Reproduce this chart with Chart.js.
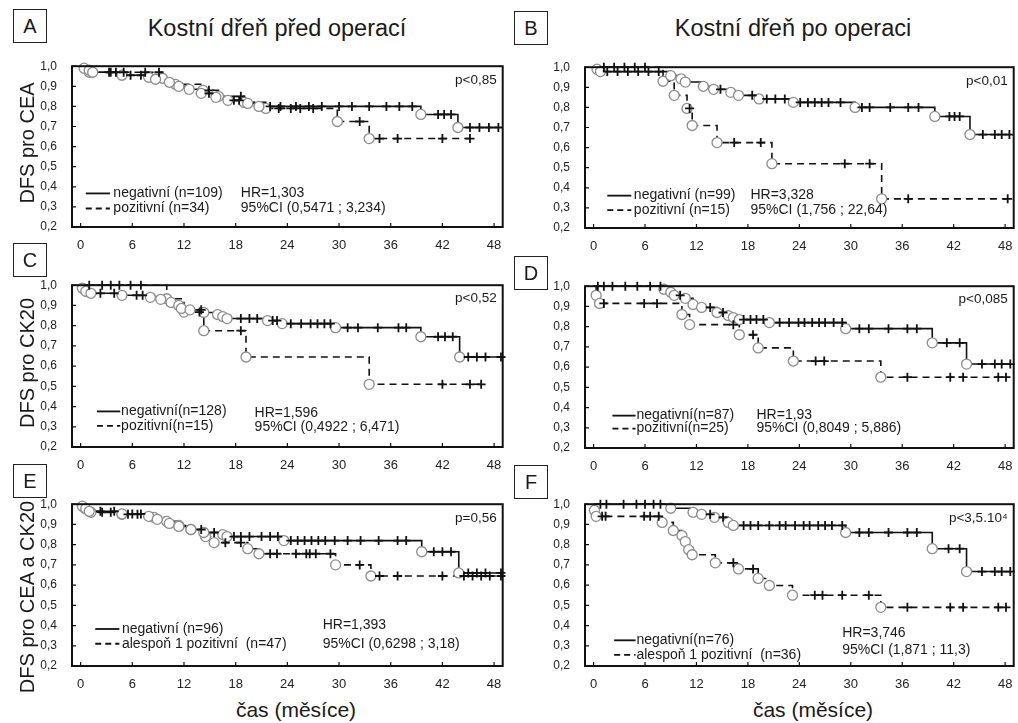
<!DOCTYPE html>
<html>
<head>
<meta charset="utf-8">
<script src="https://cdn.jsdelivr.net/npm/chart.js@4.4.1/dist/chart.umd.min.js"></script>
<style>
body{margin:0;background:#fff;width:1018px;height:723px;position:relative;overflow:hidden;font-family:"Liberation Sans",Arial,sans-serif;color:#1a1a1a}
canvas{position:absolute}
.letter{position:absolute;width:32px;height:32px;border:1.5px solid #222;font-size:20px;line-height:32px;text-align:center}
.title{position:absolute;font-size:23.5px;transform:translate(-50%,-50%);white-space:nowrap}
.xtitle{position:absolute;font-size:21px;transform:translate(-50%,-50%);white-space:nowrap}
.ytitle{position:absolute;font-size:20px;transform:translate(-50%,-50%) rotate(-90deg);white-space:nowrap}
</style>
</head>
<body>
<script>
// axis ticks
const monthTicks = [0, 6, 12, 18, 24, 30, 36, 42, 48];
const survTicks = [0.2, 0.3, 0.4, 0.5, 0.6, 0.7, 0.8, 0.9, 1.0];

// Kaplan-Meier curves: [month, survival] at each event, plus censored months
const aNeg = [[0.4,0.99],[1.0,0.98],[1.4,0.97],[4.8,0.955],[7.9,0.945],[8.7,0.935],[10.3,0.92],[11.4,0.90],[12.6,0.885],[14.0,0.865],[15.7,0.845],[17.1,0.83],[19.4,0.815],[20.7,0.80],[39.5,0.76],[43.8,0.695]];
const aNegCens = [3.3,4.1,5.8,7.0,14.9,17.8,18.4,22.0,23.2,25.0,26.5,28.0,30.0,31.5,33.5,35.5,37.0,38.5,41.5,42.2,43.0,45.2,46.3,47.4,48.5];
const aPos = [[1.0,0.97],[9.5,0.94],[11.0,0.91],[14.2,0.88],[16.0,0.85],[19.0,0.82],[21.5,0.79],[29.8,0.725],[33.5,0.64]];
const aPosCens = [3.5,5.0,7.5,9.1,14.9,18.6,23.0,24.4,25.5,27.0,32.4,34.7,36.8,42.0,45.2];

const bNeg = [[0.4,0.99],[0.8,0.978],[9.0,0.958],[10.2,0.942],[10.7,0.926],[12.8,0.905],[14.0,0.89],[16.0,0.875],[16.9,0.86],[19.3,0.842],[23.3,0.825],[30.5,0.80],[39.8,0.755],[43.9,0.665]];
const bNegCens = [1.6,2.8,4.0,5.2,6.4,7.6,14.8,18.5,20.2,21.2,22.3,24.1,25.0,25.8,26.6,27.4,28.8,31.3,32.2,34.6,36.7,37.9,41.5,42.1,42.7,45.4,46.8,47.6,48.5];
const bPos = [[8.1,0.93],[9.4,0.86],[10.9,0.795],[11.5,0.71],[14.4,0.625],[20.8,0.52],[33.6,0.345]];
const bPosCens = [1.2,2.4,3.6,4.8,6.0,11.2,16.4,19.5,29.3,32.2,36.7,48.3];

const cNeg = [[0.2,0.985],[0.6,0.97],[1.2,0.96],[4.8,0.95],[8.1,0.94],[9.3,0.93],[10.5,0.915],[11.4,0.90],[11.7,0.885],[12.7,0.878],[14.3,0.865],[15.9,0.855],[16.5,0.845],[17.0,0.835],[21.7,0.825],[23.4,0.81],[29.6,0.79],[39.5,0.745],[44.0,0.645]];
const cNegCens = [2.3,3.9,6.5,7.2,14.0,18.6,19.6,20.5,22.3,22.8,24.4,25.6,26.7,27.5,28.3,29.0,31.0,32.2,34.5,36.9,37.8,41.5,42.3,43.2,45.0,46.0,47.0,48.8];
const cPos = [[10.0,0.933],[12.0,0.867],[14.3,0.775],[19.2,0.645],[33.5,0.51]];
const cPosCens = [1.0,2.5,3.5,4.5,5.8,7.0,13.8,18.6,42.0,45.2,46.5];

const dNeg = [[8.2,0.985],[9.0,0.97],[9.4,0.955],[10.7,0.94],[11.6,0.91],[12.6,0.895],[14.4,0.87],[15.7,0.855],[16.3,0.845],[17.0,0.835],[20.5,0.82],[29.4,0.79],[39.5,0.72],[43.5,0.615]];
const dNegCens = [0.5,1.2,2.2,3.7,5.1,6.6,7.8,10.1,13.6,15.1,17.5,18.3,19.0,19.8,21.7,22.8,23.9,24.6,25.5,26.3,27.0,28.0,29.0,31.0,32.1,34.4,36.6,37.7,41.2,42.7,45.3,46.8,47.6,48.6];
const dPos = [[0.3,0.955],[0.7,0.915],[10.3,0.86],[11.2,0.81],[17.0,0.76],[19.2,0.695],[23.3,0.63],[33.5,0.55]];
const dPosCens = [1.2,5.9,7.4,16.3,18.6,25.9,26.9,36.6,41.6,43.1,47.2,48.1];

const eNeg = [[0.2,0.99],[0.6,0.978],[1.0,0.965],[4.8,0.952],[7.9,0.94],[8.9,0.925],[10.3,0.905],[11.4,0.89],[12.8,0.875],[14.3,0.86],[16.5,0.85],[17.0,0.84],[23.6,0.82],[39.6,0.765],[43.9,0.66]];
const eNegCens = [2.3,3.9,6.0,7.0,14.0,15.5,17.8,18.6,19.6,21.0,22.0,22.9,24.4,25.2,26.0,26.8,27.6,28.4,29.5,31.0,32.5,34.6,36.8,37.8,41.0,42.0,43.0,45.0,46.0,47.0,48.8];
const ePos = [[0.5,0.98],[1.2,0.96],[4.8,0.95],[8.5,0.935],[10.0,0.915],[11.4,0.895],[12.8,0.875],[14.5,0.84],[15.5,0.81],[19.4,0.78],[20.7,0.755],[29.6,0.70],[33.7,0.645]];
const ePosCens = [2.5,3.5,5.5,6.6,16.8,18.6,22.0,22.8,25.0,26.2,26.6,27.3,29.0,32.4,34.7,36.8,42.0,44.5,45.5,46.5,47.5,48.8];

const fNeg = [[9.0,0.98],[11.6,0.96],[12.6,0.95],[14.1,0.935],[15.7,0.91],[16.3,0.895],[29.4,0.86],[39.5,0.78],[43.5,0.667]];
const fNegCens = [0.8,1.5,3.5,5.0,6.0,7.0,7.8,13.6,15.1,17.5,18.3,19.2,20.5,21.7,22.4,23.5,24.5,25.2,26.2,27.0,27.8,29.0,31.0,32.1,34.4,36.6,37.7,41.4,42.7,45.3,46.8,47.6,48.6];
const fPos = [[0.1,0.97],[0.3,0.94],[8.0,0.91],[9.3,0.87],[10.3,0.845],[10.7,0.815],[11.1,0.775],[11.5,0.75],[14.2,0.71],[16.9,0.68],[19.2,0.633],[20.5,0.598],[23.2,0.55],[33.5,0.49]];
const fPosCens = [1.0,1.4,5.9,6.6,7.6,16.3,18.6,25.8,26.7,29.0,32.1,36.6,41.6,43.1,47.2,48.1];

// texts
const negLabels = ["negativní (n=109)", "negativní (n=99)", "negativní(n=128)", "negativní(n=87)", "negativní (n=96)", "negativní(n=76)"];
const posLabels = ["pozitivní (n=34)", "pozitivní (n=15)", "pozitivní(n=15)", "pozitivní(n=25)", "alespoň 1 pozitivní  (n=47)", "alespoň 1 pozitivní  (n=36)"];
const hrLabels = ["HR=1,303", "HR=3,328", "HR=1,596", "HR=1,93", "HR=1,393", "HR=3,746"];
const ciLabels = ["95%CI (0,5471 ; 3,234)", "95%CI (1,756 ; 22,64)", "95%CI (0,4922 ; 6,471)", "95%CI (0,8049 ; 5,886)", "95%CI (0,6298 ; 3,18)", "95%CI (1,871 ; 11,3)"];
const pLabels = ["p<0,85", "p<0,01", "p<0,52", "p<0,085", "p=0,56", "p<3,5.10⁴"];
const letters = ["A", "B", "C", "D", "E", "F"];
const yTitles = ["DFS pro CEA", "DFS pro CK20", "DFS pro CEA a CK20"];
const colTitles = ["Kostní dřeň před operací", "Kostní dřeň po operaci"];
const xTitle = "čas (měsíce)";

// layout: plot box [left, top, right, bottom], legend/notes in axis units
const panels = [
  {box: [72, 60, 505, 227], neg: aNeg, negC: aNegCens, pos: aPos, posC: aPosCens, leg: [0.6, 3.4, 3.8], legY: [0.367, 0.292], hrX: 18.6, hrY: [0.367, 0.292], pY: 0.93, letter: [13, 9]},
  {box: [585, 61, 1016, 228], neg: bNeg, negC: bNegCens, pos: bPos, posC: bPosCens, leg: [1.6, 4.4, 4.7], legY: [0.361, 0.289], hrX: 18.3, hrY: [0.361, 0.289], pY: 0.93, letter: [514, 11]},
  {box: [72, 279, 505, 447], neg: cNeg, negC: cNegCens, pos: cPos, posC: cPosCens, leg: [1.9, 4.6, 4.7], legY: [0.376, 0.304], hrX: 20.2, hrY: [0.368, 0.296], pY: 0.935, letter: [13, 243]},
  {box: [585, 280, 1016, 448], neg: dNeg, negC: dNegCens, pos: dPos, posC: dPosCens, leg: [2.2, 4.9, 5.0], legY: [0.36, 0.296], hrX: 19.0, hrY: [0.36, 0.296], pY: 0.935, letter: [514, 256]},
  {box: [72, 498, 505, 666], neg: eNeg, negC: eNegCens, pos: ePos, posC: ePosCens, leg: [1.7, 4.5, 4.8], legY: [0.383, 0.31], hrX: 28.1, hrY: [0.40, 0.31], pY: 0.93, letter: [13, 464]},
  {box: [585, 498, 1016, 666], neg: fNeg, negC: fNegCens, pos: fPos, posC: fPosCens, leg: [2.4, 4.9, 5.0], legY: [0.327, 0.255], hrX: 29.0, hrY: [0.36, 0.276], pY: 0.93, letter: [514, 465]}
];

const fmt = v => v.toFixed(1).replace('.', ',');

function stepValue(events, t) {
  let s = 1;
  events.forEach(e => { if (e[0] <= t) s = e[1]; });
  return s;
}

function curveSets(events, cens, dashed) {
  const last = events[events.length - 1];
  const end = Math.max(last[0], cens[cens.length - 1]);
  const line = [{x: 0, y: 1}].concat(events.map(e => ({x: e[0], y: e[1]})), [{x: end, y: last[1]}]);
  return [
    {type: 'line', data: line, stepped: 'before', borderColor: '#111', borderWidth: 1.6,
     borderDash: dashed ? [7, 5] : [], pointRadius: 0, clip: false, order: 3},
    {type: 'scatter', data: events.map(e => ({x: e[0], y: e[1]})), pointStyle: 'circle', pointRadius: 5,
     borderColor: '#8c8c8c', backgroundColor: '#fff', borderWidth: 1.3, clip: false, order: 2},
    {type: 'scatter', data: cens.map(t => ({x: t, y: stepValue(events, t)})), pointStyle: 'cross', pointRadius: 4.5,
     borderColor: '#111', borderWidth: 1.8, clip: false, order: 1}
  ];
}

const decor = {
  id: 'decor',
  afterDraw(chart, args, o) {
    const {ctx, chartArea: a, scales: {x, y}} = chart;
    ctx.save();
    ctx.strokeStyle = '#111';
    ctx.lineWidth = 1.2;
    ctx.beginPath();
    monthTicks.forEach(v => { const px = x.getPixelForValue(v); ctx.moveTo(px, a.bottom); ctx.lineTo(px, a.bottom - 4); });
    survTicks.forEach(v => { const py = y.getPixelForValue(v); ctx.moveTo(a.left, py); ctx.lineTo(a.left + 4, py); });
    ctx.stroke();
    ctx.lineWidth = 2;
    ctx.strokeRect(a.left, a.top, a.right - a.left, a.bottom - a.top);

    const p = o.panel, i = o.index;
    ctx.fillStyle = '#1a1a1a';
    ctx.textBaseline = 'middle';
    ctx.font = '13.5px "Liberation Sans", Arial, sans-serif';
    ctx.textAlign = 'right';
    ctx.fillText(pLabels[i], x.getPixelForValue(48.3), y.getPixelForValue(p.pY));

    // legend samples
    ctx.lineWidth = 1.8;
    [0, 1].forEach(r => {
      const py = y.getPixelForValue(p.legY[r]);
      ctx.setLineDash(r ? [6, 4] : []);
      ctx.beginPath();
      ctx.moveTo(x.getPixelForValue(p.leg[0]), py);
      ctx.lineTo(x.getPixelForValue(p.leg[1]), py);
      ctx.stroke();
    });
    ctx.setLineDash([]);
    ctx.font = '14px "Liberation Sans", Arial, sans-serif';
    ctx.textAlign = 'left';
    ctx.fillText(negLabels[i], x.getPixelForValue(p.leg[2]), y.getPixelForValue(p.legY[0]));
    ctx.fillText(posLabels[i], x.getPixelForValue(p.leg[2]), y.getPixelForValue(p.legY[1]));
    ctx.fillText(hrLabels[i], x.getPixelForValue(p.hrX), y.getPixelForValue(p.hrY[0]));
    ctx.fillText(ciLabels[i], x.getPixelForValue(p.hrX), y.getPixelForValue(p.hrY[1]));
    ctx.restore();
  }
};

function addDiv(cls, text, left, top) {
  const d = document.createElement('div');
  d.className = cls;
  d.textContent = text;
  d.style.left = left + 'px';
  d.style.top = top + 'px';
  document.body.appendChild(d);
}

panels.forEach((p, i) => {
  const [L, T, R, B] = p.box;
  const cv = document.createElement('canvas');
  cv.width = R - L + 46;
  cv.height = B - T + 30;
  cv.style.left = (L - 42) + 'px';
  cv.style.top = (T - 8) + 'px';
  document.body.appendChild(cv);

  new Chart(cv, {
    data: {datasets: curveSets(p.neg, p.negC, false).concat(curveSets(p.pos, p.posC, true))},
    options: {
      responsive: false,
      animation: false,
      layout: {padding: {left: 0, top: 8, right: 4, bottom: 0}},
      plugins: {legend: {display: false}, tooltip: {enabled: false}, decor: {panel: p, index: i}},
      scales: {
        x: {
          type: 'linear', min: -1, max: 49,
          grid: {display: false}, border: {display: false},
          afterBuildTicks: s => { s.ticks = monthTicks.map(v => ({value: v})); },
          afterFit: s => { s.height = 22; },
          ticks: {color: '#222', padding: 3, maxRotation: 0, autoSkip: false, font: {size: 13, family: '"Liberation Sans", Arial, sans-serif'}}
        },
        y: {
          type: 'linear', min: 0.2, max: 1.0,
          grid: {display: false}, border: {display: false},
          afterBuildTicks: s => { s.ticks = survTicks.map(v => ({value: v})); },
          afterFit: s => { s.width = 42; },
          ticks: {color: '#222', padding: 7, callback: v => fmt(v), font: {size: 12, family: '"Liberation Sans", Arial, sans-serif'}}
        }
      }
    },
    plugins: [decor]
  });

  addDiv('letter', letters[i], p.letter[0], p.letter[1]);
});

addDiv('title', colTitles[0], 277, 28);
addDiv('title', colTitles[1], 793, 28);
addDiv('ytitle', yTitles[0], 27, 143);
addDiv('ytitle', yTitles[1], 27, 363);
addDiv('ytitle', yTitles[2], 27, 597);
addDiv('xtitle', xTitle, 296, 710);
addDiv('xtitle', xTitle, 813, 710);
</script>
</body>
</html>
